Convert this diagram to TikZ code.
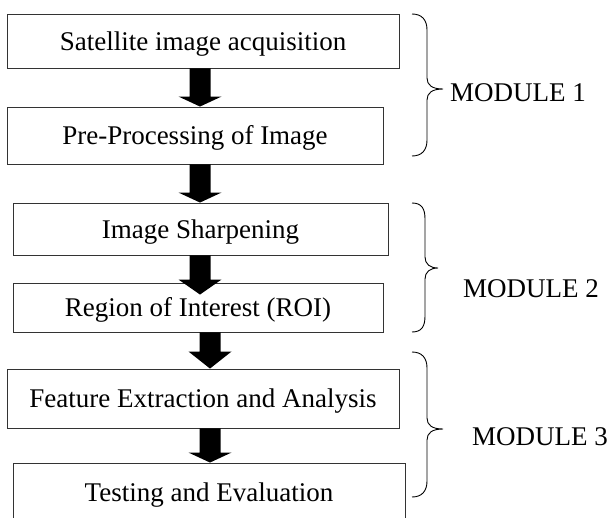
\documentclass[tikz,border=0pt]{standalone}
\usepackage{fontspec}
\setmainfont{Liberation Serif}
\usetikzlibrary{calc}
\tikzset{
 stepbox/.style={draw=black!80, line width=0.9pt, rectangle, inner sep=0pt, font=\fontsize{27}{32}\selectfont, text height=18pt, text depth=0pt, anchor=center},
 modlabel/.style={font=\fontsize{27}{32}\selectfont, inner sep=0pt, anchor=west, text height=18pt, text depth=0pt},
 bracepath/.style={draw=black, line width=0.9pt},
 blockfill/.style={fill=black}
}
\newcommand\blkarrow[3]{%
 \fill[blockfill] ($(#1)+(-10.5,0)$) -- ($(#2)+(-10.5,-#3)$) -- ($(#2)+(-21.5,-#3)$) -- (#2) -- ($(#2)+(21.5,-#3)$) -- ($(#2)+(10.5,-#3)$) -- ($(#1)+(10.5,0)$) -- cycle;}
\newcommand\modbrace[6]{%
 \draw[bracepath] (#1,#4) .. controls ({#1+10},#4) and (#2,{#4+6}) .. (#2,{#4+16}) -- (#2,{#5-11}) .. controls (#2,{#5-4}) and ({#2+5},#5) .. (#3,#5) .. controls ({#2+5},#5) and (#2,{#5+4}) .. (#2,{#5+11}) -- (#2,{#6-16}) .. controls (#2,{#6-6}) and ({#1+10},#6) .. (#1,#6);}
\begin{document}
\begin{tikzpicture}[x=1pt,y=-1pt]
\useasboundingbox (0,0) rectangle (608,517);
\clip (0,0) rectangle (608,517);
\node[stepbox, minimum width=392pt, minimum height=54pt] (b1) at (203,41) {Satellite image acquisition};
\node[stepbox, minimum width=376pt, minimum height=57pt] (b2) at (195,135.5) {Pre-Processing of Image};
\node[stepbox, minimum width=375pt, minimum height=52pt] (b3) at (200.5,229) {Image Sharpening};
\node[stepbox, minimum width=370pt, minimum height=49pt] (b4) at (198,307.5) {Region of Interest (ROI)};
\node[stepbox, minimum width=392pt, minimum height=59pt] (b5) at (203,398.5) {Feature Extraction and Analysis};
\node[stepbox, minimum width=392pt, minimum height=58pt] (b6) at (209,492) {Testing and Evaluation};
\coordinate (ax1) at (200,0);
\coordinate (ax2) at (210,0);
\coordinate (s1) at (b1.south -| ax1); \coordinate (t1) at (b2.north -| ax1);
\coordinate (s2) at (b2.south -| ax1); \coordinate (t2) at (b3.north -| ax1);
\coordinate (s3) at (b3.south -| ax1); \coordinate (t3a) at (b4.north -| ax1);
\coordinate (t3) at ($(t3a)+(0,12)$);
\coordinate (s4) at (b4.south -| ax2); \coordinate (t4) at (b5.north -| ax2);
\coordinate (s5) at (b5.south -| ax2); \coordinate (t5) at (b6.north -| ax2);
\blkarrow{s1}{t1}{10}
\blkarrow{s2}{t2}{10}
\blkarrow{s3}{t3}{15}
\blkarrow{s4}{t4}{17}
\blkarrow{s5}{t5}{10}
\modbrace{412}{427}{443}{14}{89}{156}
\modbrace{412}{425}{438}{203}{268}{332}
\modbrace{412}{427}{443}{352}{429}{497}
\node[modlabel] (m1) at (450,92) {MODULE 1};
\node[modlabel] (m2) at (463,288) {MODULE 2};
\node[modlabel] (m3) at (472,436) {MODULE 3};
\end{tikzpicture}
\end{document}
